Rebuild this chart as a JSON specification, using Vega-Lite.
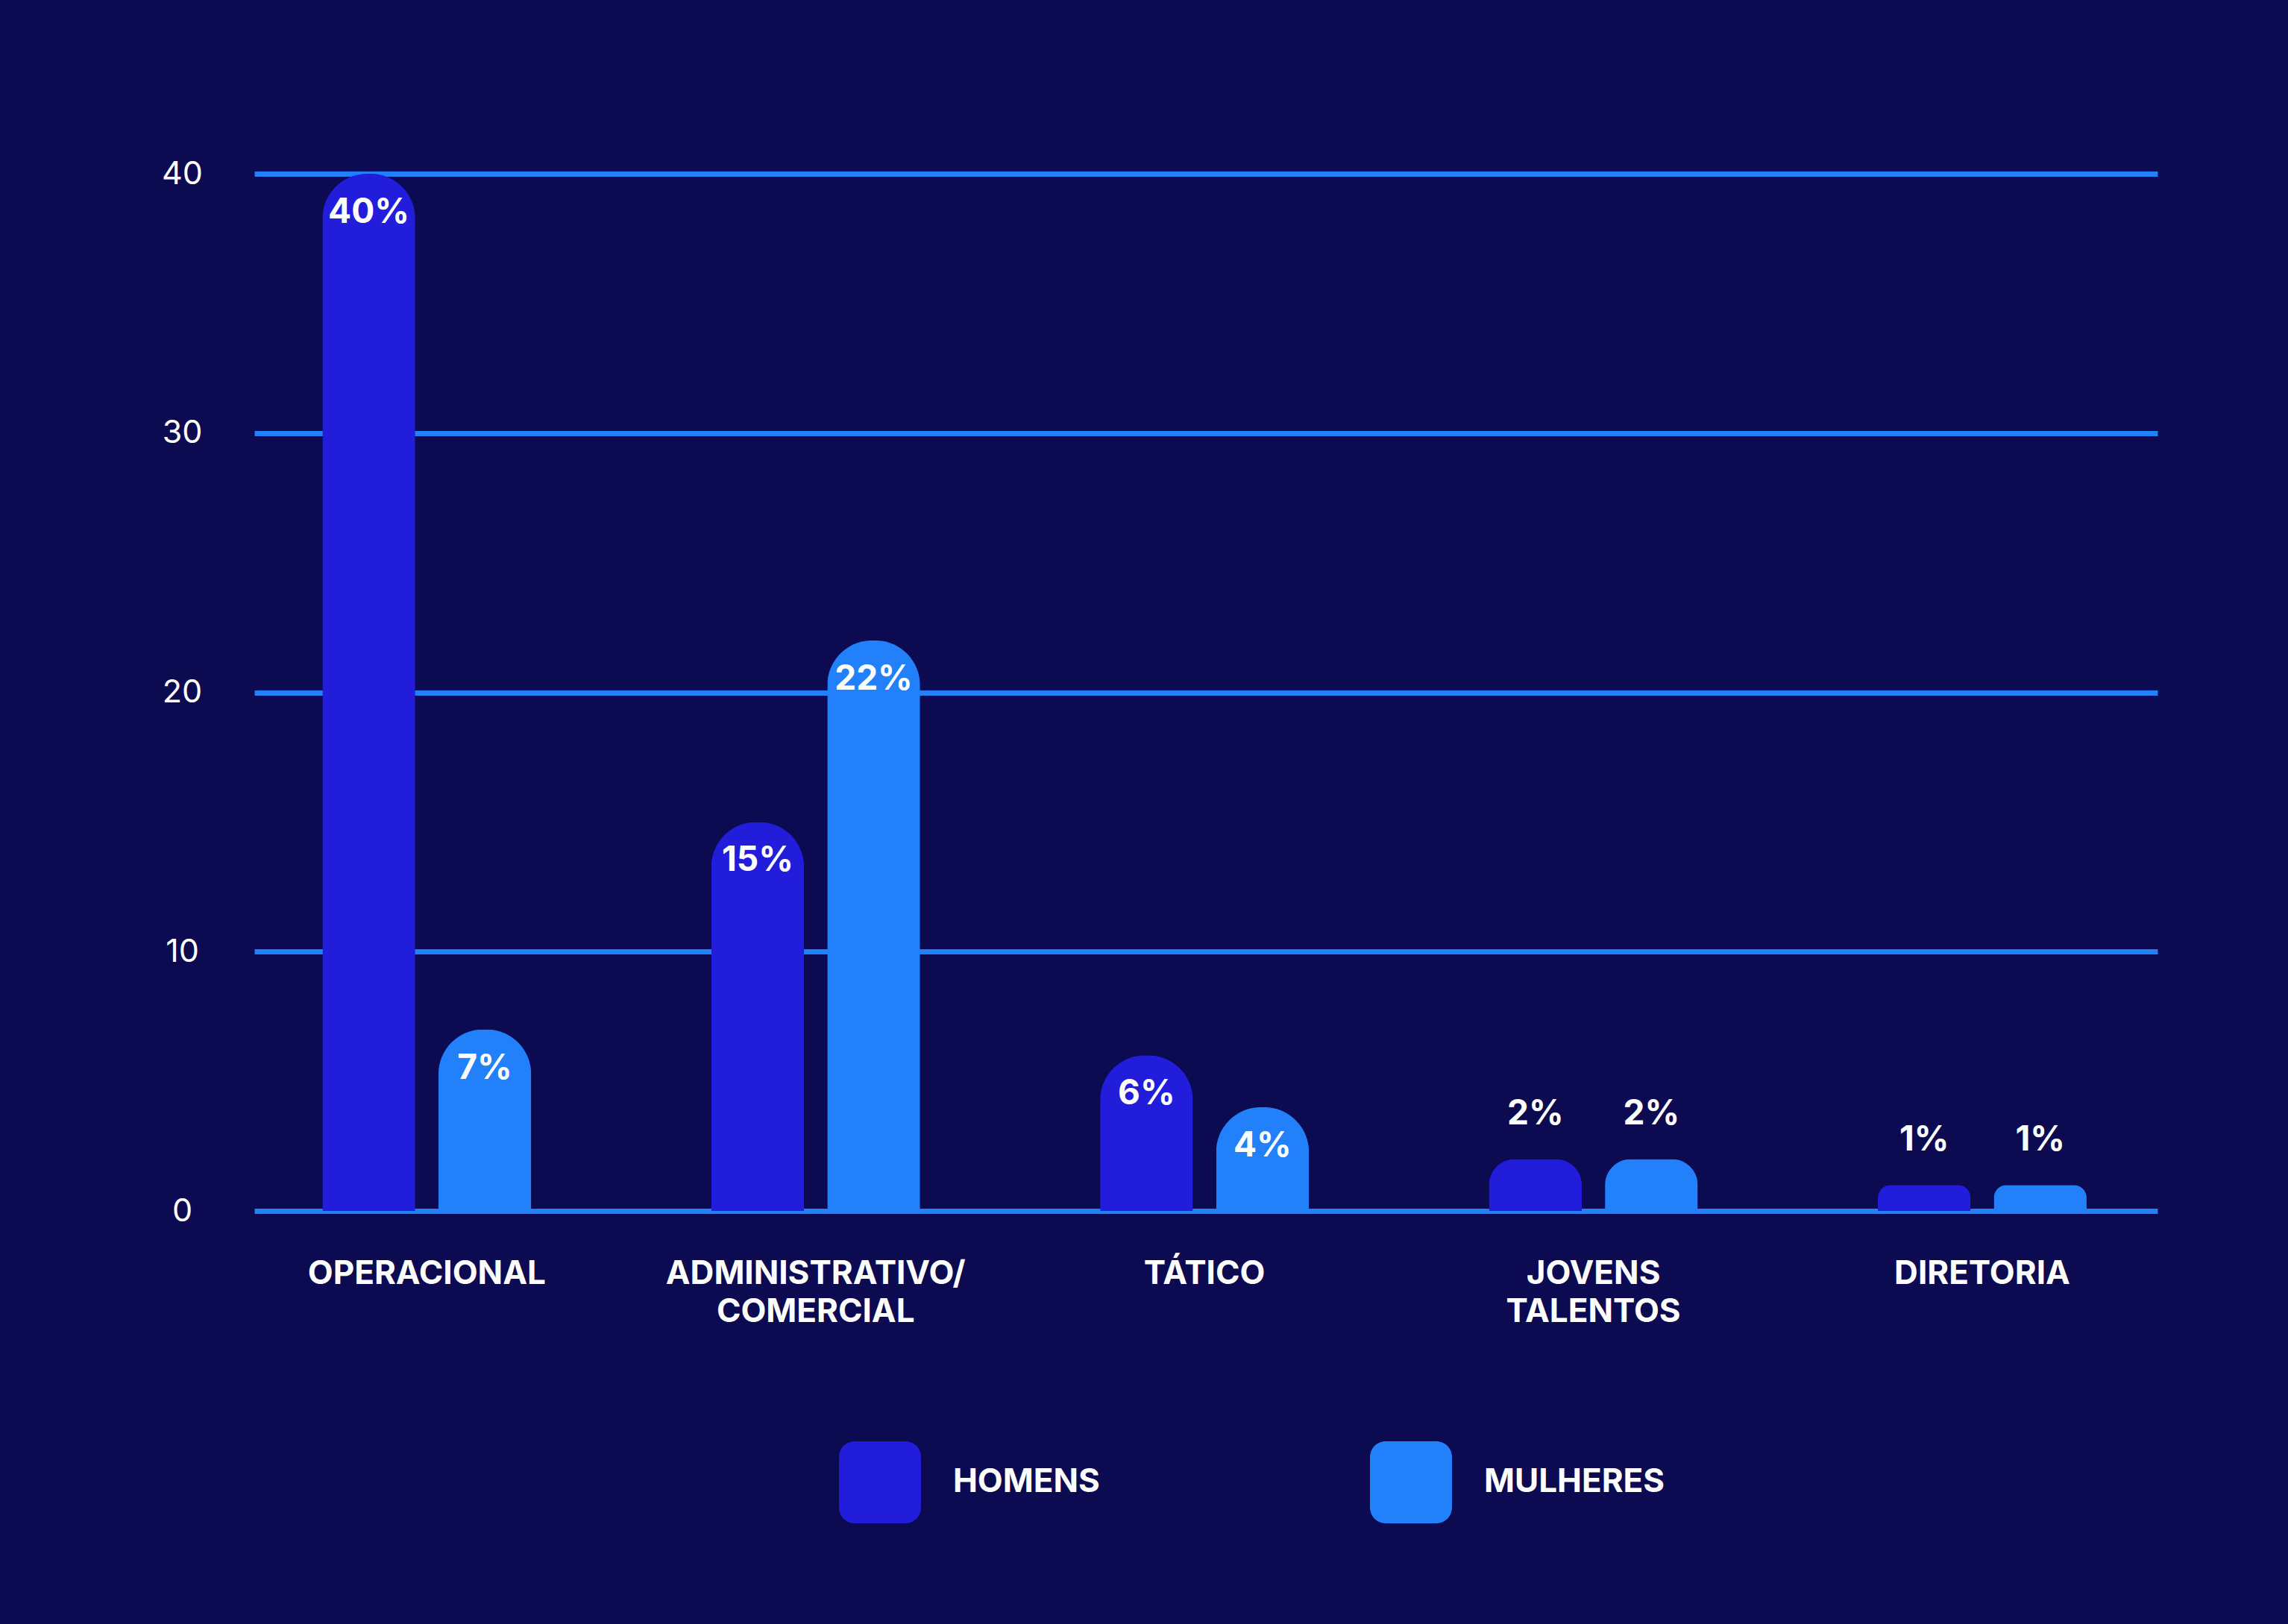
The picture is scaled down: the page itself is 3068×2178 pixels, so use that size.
{
  "$schema": "https://vega.github.io/schema/vega-lite/v6.json",
  "width": 2552,
  "height": 1391,
  "autosize": {"type": "none"},
  "padding": {"left": 341, "top": 233, "right": 175, "bottom": 554},
  "background": "#0c0a50",
  "config": {"view": {"stroke": null}, "font": "Inter"},
  "data": {
    "values": [
      {"cargo": "OPERACIONAL", "genero": "HOMENS", "valor": 40, "rotulo": "40%"},
      {"cargo": "OPERACIONAL", "genero": "MULHERES", "valor": 7, "rotulo": "7%"},
      {"cargo": "ADMINISTRATIVO/|COMERCIAL", "genero": "HOMENS", "valor": 15, "rotulo": "15%"},
      {"cargo": "ADMINISTRATIVO/|COMERCIAL", "genero": "MULHERES", "valor": 22, "rotulo": "22%"},
      {"cargo": "TÁTICO", "genero": "HOMENS", "valor": 6, "rotulo": "6%"},
      {"cargo": "TÁTICO", "genero": "MULHERES", "valor": 4, "rotulo": "4%"},
      {"cargo": "JOVENS|TALENTOS", "genero": "HOMENS", "valor": 2, "rotulo": "2%"},
      {"cargo": "JOVENS|TALENTOS", "genero": "MULHERES", "valor": 2, "rotulo": "2%"},
      {"cargo": "DIRETORIA", "genero": "HOMENS", "valor": 1, "rotulo": "1%"},
      {"cargo": "DIRETORIA", "genero": "MULHERES", "valor": 1, "rotulo": "1%"}
    ]
  },
  "encoding": {
    "x": {
      "field": "cargo",
      "type": "nominal",
      "sort": ["OPERACIONAL", "ADMINISTRATIVO/|COMERCIAL", "TÁTICO", "JOVENS|TALENTOS", "DIRETORIA"],
      "scale": {"paddingInner": 0.463, "paddingOuter": 0.1787, "align": 0.49},
      "axis": {
        "title": null,
        "domain": false,
        "ticks": false,
        "grid": false,
        "labelAngle": 0,
        "labelExpr": "split(datum.label, '|')",
        "labelColor": "#ffffff",
        "labelFont": "Inter",
        "labelFontSize": 44,
        "labelFontWeight": "bold",
        "labelPadding": 62,
        "labelLineHeight": 51,
        "labelLimit": 0
      }
    },
    "xOffset": {
      "field": "genero",
      "type": "nominal",
      "sort": ["HOMENS", "MULHERES"],
      "scale": {"paddingInner": 0.2, "paddingOuter": 0}
    },
    "y": {
      "field": "valor",
      "type": "quantitative",
      "scale": {"domain": [0, 40], "nice": false},
      "axis": {
        "title": null,
        "values": [0, 10, 20, 30, 40],
        "domain": false,
        "ticks": false,
        "grid": true,
        "gridColor": "#2280fa",
        "gridWidth": 7,
        "gridOpacity": 1,
        "labelColor": "#ffffff",
        "labelFont": "Inter",
        "labelFontSize": 43,
        "labelFontWeight": 400,
        "labelAlign": "center",
        "labelBaseline": "middle",
        "labelPadding": 97,
        "labelFlush": false
      }
    }
  },
  "layer": [
    {
      "mark": {"type": "bar", "cornerRadiusEnd": 60},
      "encoding": {
        "color": {
          "field": "genero",
          "type": "nominal",
          "scale": {"domain": ["HOMENS", "MULHERES"], "range": ["#221cdb", "#2281fa"]},
          "legend": {
            "title": null,
            "orient": "none",
            "legendX": 784,
            "legendY": 1700,
            "direction": "horizontal",
            "padding": 0,
            "symbolType": "M -0.62 -1 H 0.62 A 0.38 0.38 0 0 1 1 -0.62 V 0.62 A 0.38 0.38 0 0 1 0.62 1 H -0.62 A 0.38 0.38 0 0 1 -1 0.62 V -0.62 A 0.38 0.38 0 0 1 -0.62 -1 Z",
            "symbolSize": 12100,
            "symbolStrokeWidth": 0,
            "symbolOpacity": 1,
            "labelColor": "#ffffff",
            "labelFont": "Inter",
            "labelFontSize": 44,
            "labelFontWeight": "bold",
            "labelOffset": 43,
            "labelLimit": 600,
            "columnPadding": 362
          }
        }
      }
    },
    {
      "transform": [{"filter": "datum.valor > 2"}],
      "mark": {"type": "text", "dy": 52, "color": "#ffffff", "font": "Inter", "fontSize": 46, "fontWeight": "bold", "baseline": "middle", "align": "center"},
      "encoding": {"text": {"field": "rotulo", "type": "nominal"}}
    },
    {
      "transform": [{"filter": "datum.valor <= 2"}],
      "mark": {"type": "text", "dy": -60, "color": "#ffffff", "font": "Inter", "fontSize": 46, "fontWeight": "bold", "baseline": "middle", "align": "center"},
      "encoding": {"text": {"field": "rotulo", "type": "nominal"}}
    }
  ]
}
